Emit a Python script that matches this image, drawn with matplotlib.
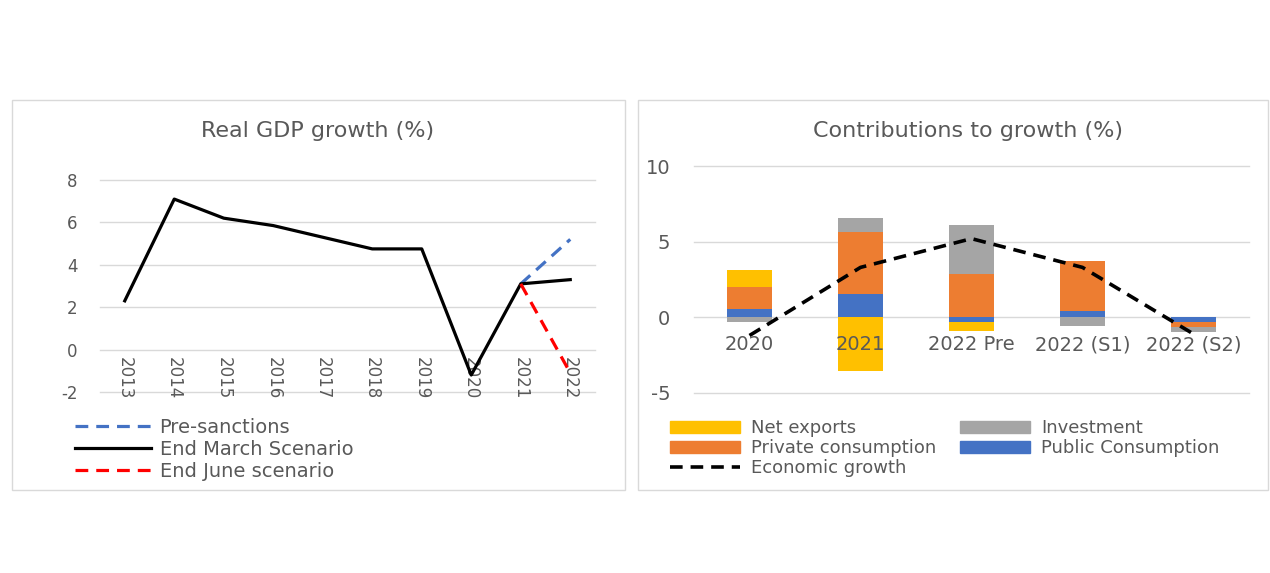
import matplotlib

matplotlib.use("Agg")
import matplotlib.pyplot as plt
import matplotlib.lines as mlines
import matplotlib.patches as mpatches
import numpy as np

plt.rcParams["font.family"] = ["DejaVu Sans"]
plt.rcParams["axes.unicode_minus"] = False

TEXT = "#595959"
GRID = "#D9D9D9"

# Left panel: real GDP growth
years = ["2013", "2014", "2015", "2016", "2017", "2018", "2019", "2020", "2021", "2022"]
end_march = [2.3, 7.1, 6.2, 5.85, 5.3, 4.75, 4.75, -1.2, 3.1, 3.3]
pre_sanctions = [None, None, None, None, None, None, None, None, 3.1, 5.2]
end_june = [None, None, None, None, None, None, None, None, 3.1, -1.1]

# Right panel: contributions to growth
cats = ["2020", "2021", "2022 Pre", "2022 (S1)", "2022 (S2)"]
public_cons = [0.55, 1.55, -0.3, 0.4, -0.3]
private_cons = [1.45, 4.1, 2.85, 3.3, -0.35]
net_exports = [1.15, -3.55, -0.6, 0.0, 0.0]
investment = [-0.3, 0.9, 3.25, -0.55, -0.35]
econ_growth = [-1.2, 3.3, 5.2, 3.3, -1.1]

COLORS = {
    "Net exports": "#FFC000",
    "Investment": "#A5A5A5",
    "Private consumption": "#ED7D31",
    "Public Consumption": "#4472C4",
}

W, H = 1270, 573
fig = plt.figure(figsize=(W / 100, H / 100), dpi=100)
fig.patch.set_facecolor("white")


def fx(px):
    return px / W


def fy(py):
    return 1 - py / H


# panel frames
for x0, x1 in [(12, 625), (638, 1268)]:
    fig.add_artist(mpatches.Rectangle((fx(x0), fy(490)), fx(x1 - x0), (490 - 100) / H,
                                      transform=fig.transFigure, fill=False,
                                      edgecolor=GRID, lw=1.0))

# ---- left chart
ax1 = fig.add_axes([fx(100), fy(392), fx(495), (392 - 180) / H])
x = np.arange(len(years))


def series(vals):
    return np.array([np.nan if v is None else v for v in vals], dtype=float)


DASH = (0, (4, 2.5))
ax1.plot(x, series(pre_sanctions), color="#4472C4", lw=2.3, ls=DASH, zorder=3)
ax1.plot(x, series(end_march), color="black", lw=2.3, zorder=4)
ax1.plot(x, series(end_june), color="#FF0000", lw=2.3, ls=DASH, zorder=5)
ax1.set_xlim(-0.5, len(years) - 0.5)
ax1.set_ylim(-2, 8)
ax1.set_yticks([-2, 0, 2, 4, 6, 8])
ax1.set_xticks([])
ax1.tick_params(axis="y", length=0, pad=16, labelsize=12, labelcolor=TEXT)
ax1.grid(axis="y", color=GRID, lw=1)
for gl in ax1.get_ygridlines():
    gl.set_clip_on(False)
for s in ax1.spines.values():
    s.set_visible(False)
# year labels sit under the lines, as in the original
for i, yr in enumerate(years):
    ax1.text(i, -0.35, yr, rotation=-90, ha="center", va="top", fontsize=12,
             color=TEXT, zorder=2)
fig.text(fx(318), fy(131), "Real GDP growth (%)", ha="center", va="center",
         fontsize=16, color=TEXT)

left_handles = [
    mlines.Line2D([], [], color="#4472C4", lw=2.3, ls=DASH, label="Pre-sanctions"),
    mlines.Line2D([], [], color="black", lw=2.3, label="End March Scenario"),
    mlines.Line2D([], [], color="#FF0000", lw=2.3, ls=DASH, label="End June scenario"),
]
fig.legend(handles=left_handles, loc="upper left", bbox_to_anchor=(fx(75), fy(418)),
           frameon=False, fontsize=14, labelcolor=TEXT, handlelength=3.9,
           handletextpad=0.45, labelspacing=0.15, borderaxespad=0, borderpad=0)

# ---- right chart
ax2 = fig.add_axes([fx(694), fy(393), fx(555), (393 - 166) / H])
xc = np.arange(len(cats))
pos_base = np.zeros(len(cats))
neg_base = np.zeros(len(cats))
for name, vals in [("Public Consumption", public_cons), ("Private consumption", private_cons),
                   ("Net exports", net_exports), ("Investment", investment)]:
    v = np.array(vals)
    base = np.where(v >= 0, pos_base, neg_base)
    ax2.bar(xc, v, 0.4, bottom=base, color=COLORS[name], zorder=2)
    pos_base = pos_base + np.where(v >= 0, v, 0)
    neg_base = neg_base + np.where(v < 0, v, 0)
ax2.plot(xc, econ_growth, color="black", lw=2.6, ls=(0, (3.5, 2.2)), zorder=4)
ax2.set_xlim(-0.5, len(cats) - 0.5)
ax2.set_ylim(-5, 10)
ax2.set_yticks([-5, 0, 5, 10])
ax2.set_xticks([])
ax2.tick_params(axis="y", length=0, pad=17, labelsize=14, labelcolor=TEXT)
ax2.grid(axis="y", color=GRID, lw=1, zorder=0)
for gl in ax2.get_ygridlines():
    gl.set_clip_on(False)
ax2.set_axisbelow(True)
for s in ax2.spines.values():
    s.set_visible(False)
for i, c in enumerate(cats):
    ax2.text(i, -1.8, c, ha="center", va="center", fontsize=14, color=TEXT, zorder=6)
fig.text(fx(968), fy(131), "Contributions to growth (%)", ha="center", va="center",
         fontsize=16, color=TEXT)

right_handles = [
    mpatches.Patch(color=COLORS["Net exports"], label="Net exports"),
    mpatches.Patch(color=COLORS["Private consumption"], label="Private consumption"),
    mlines.Line2D([], [], color="black", lw=2.6, ls=(0, (3.5, 2.2)), label="Economic growth"),
    mpatches.Patch(color=COLORS["Investment"], label="Investment"),
    mpatches.Patch(color=COLORS["Public Consumption"], label="Public Consumption"),
]
fig.legend(handles=right_handles, loc="upper left", bbox_to_anchor=(fx(670), fy(419)),
           ncol=2, frameon=False, fontsize=13, labelcolor=TEXT, handlelength=3.9,
           handleheight=0.65, handletextpad=0.6, labelspacing=0.12, columnspacing=1.3,
           borderaxespad=0, borderpad=0)

fig.savefig("out.png", dpi=100, facecolor="white")
